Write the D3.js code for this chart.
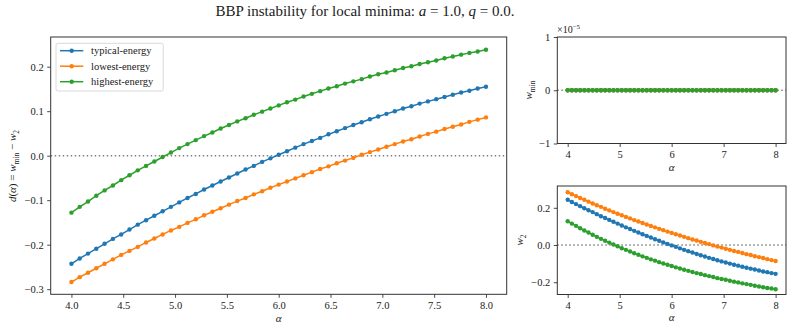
<!DOCTYPE html>
<meta charset="utf-8">
<script src="https://d3js.org/d3.v7.min.js"></script>
<style>
  body { margin: 0; background: #fff; }
  text { font-family: "Liberation Serif", "DejaVu Serif", serif; fill: #1a1a1a; }
</style>
<div id="vis"></div>
<script type="text/javascript">

// alpha grid (x values)
var alpha = [4.00, 4.08, 4.16, 4.24, 4.32, 4.40, 4.48, 4.56, 4.64, 4.72,
             4.80, 4.88, 4.96, 5.04, 5.12, 5.20, 5.28, 5.36, 5.44, 5.52,
             5.60, 5.68, 5.76, 5.84, 5.92, 6.00, 6.08, 6.16, 6.24, 6.32,
             6.40, 6.48, 6.56, 6.64, 6.72, 6.80, 6.88, 6.96, 7.04, 7.12,
             7.20, 7.28, 7.36, 7.44, 7.52, 7.60, 7.68, 7.76, 7.84, 7.92, 8.00];

// w_min is zero for every run
var wMin = [0,0,0,0,0,0,0,0,0,0, 0,0,0,0,0,0,0,0,0,0, 0,0,0,0,0,0,0,0,0,0,
            0,0,0,0,0,0,0,0,0,0, 0,0,0,0,0,0,0,0,0,0, 0];

var w2Typical = [0.243, 0.231, 0.220, 0.209, 0.198, 0.187, 0.177, 0.166, 0.155, 0.145,
                 0.135, 0.125, 0.115, 0.105, 0.095, 0.086, 0.076, 0.067, 0.058, 0.049,
                 0.040, 0.031, 0.023, 0.014, 0.006, -0.002, -0.010, -0.018, -0.026, -0.033,
                 -0.040, -0.048, -0.055, -0.062, -0.069, -0.075, -0.082, -0.088, -0.094, -0.100,
                 -0.106, -0.111, -0.117, -0.122, -0.127, -0.132, -0.137, -0.142, -0.146, -0.151, -0.155];

var w2Lowest = [0.284, 0.273, 0.263, 0.253, 0.243, 0.233, 0.223, 0.214, 0.205, 0.195,
                0.186, 0.177, 0.168, 0.160, 0.151, 0.143, 0.134, 0.126, 0.118, 0.110,
                0.102, 0.095, 0.087, 0.080, 0.072, 0.065, 0.058, 0.051, 0.044, 0.037,
                0.030, 0.024, 0.017, 0.011, 0.005, -0.002, -0.008, -0.014, -0.020, -0.026,
                -0.032, -0.037, -0.043, -0.049, -0.054, -0.060, -0.065, -0.070, -0.076, -0.081, -0.086];

var w2Highest = [0.128, 0.115, 0.103, 0.090, 0.078, 0.067, 0.055, 0.044, 0.033, 0.023,
                 0.013, 0.003, -0.007, -0.017, -0.026, -0.035, -0.044, -0.052, -0.061, -0.069,
                 -0.077, -0.084, -0.092, -0.099, -0.106, -0.113, -0.120, -0.126, -0.133, -0.139,
                 -0.145, -0.151, -0.156, -0.162, -0.167, -0.172, -0.178, -0.183, -0.187, -0.192,
                 -0.197, -0.201, -0.206, -0.210, -0.214, -0.219, -0.223, -0.227, -0.231, -0.234, -0.238];

var seriesNames = ["typical-energy", "lowest-energy", "highest-energy"];
var seriesColors = ["#1f77b4", "#ff7f0e", "#2ca02c"];
var seriesW2 = [w2Typical, w2Lowest, w2Highest];

var leftXTicks = [4.0, 4.5, 5.0, 5.5, 6.0, 6.5, 7.0, 7.5, 8.0];
var leftYTicks = [-0.3, -0.2, -0.1, 0.0, 0.1, 0.2];
var rightXTicks = [4, 5, 6, 7, 8];
var topRightYTicks = [-1e-5, 0, 1e-5];
var botRightYTicks = [-0.2, 0.0, 0.2];

var series = seriesNames.map(function(name, k) {
  return {
    name: name,
    color: seriesColors[k],
    pts: alpha.map(function(a, i) {
      return {a: a, wmin: wMin[i], w2: seriesW2[k][i], d: wMin[i] - seriesW2[k][i]};
    })
  };
});

var W = 793, H = 332;
var svg = d3.select("#vis").append("svg")
  .attr("width", W).attr("height", H)
  .style("display", "block");
svg.append("rect").attr("width", W).attr("height", H).attr("fill", "#fff");

var fmt1 = function(v) { return d3.format(".1f")(v); };

function panel(x, y, xticks, yticks, xfmt, yfmt, key) {
  var g = svg.append("g");
  var x0 = x.range()[0], x1 = x.range()[1];
  var y0 = y.range()[1], y1 = y.range()[0];

  var clipId = "clip-" + key;
  svg.append("clipPath").attr("id", clipId)
    .append("rect").attr("x", x0).attr("y", y0).attr("width", x1 - x0).attr("height", y1 - y0);

  // zero line
  g.append("line")
    .attr("x1", x0).attr("x2", x1)
    .attr("y1", y(0)).attr("y2", y(0))
    .attr("stroke", "#808080").attr("stroke-width", 1.5)
    .attr("stroke-dasharray", "1.5,2.5");

  var plot = g.append("g").attr("clip-path", "url(#" + clipId + ")");

  var ax = g.append("g").attr("transform", "translate(0," + y1 + ")")
    .call(d3.axisBottom(x).tickValues(xticks).tickFormat(xfmt).tickSizeOuter(0).tickSize(3.5).tickPadding(3.5));
  var ay = g.append("g").attr("transform", "translate(" + x0 + ",0)")
    .call(d3.axisLeft(y).tickValues(yticks).tickFormat(yfmt).tickSizeOuter(0).tickSize(3.5).tickPadding(3.5));
  [ax, ay].forEach(function(a) {
    a.attr("font-family", null);
    a.select(".domain").remove();
    a.selectAll("line").attr("stroke", "#1a1a1a").attr("stroke-width", 0.8);
    a.selectAll("text").style("font-family", "'Liberation Serif', serif")
      .style("font-size", "10.5px").attr("fill", "#1a1a1a");
  });

  g.append("rect")
    .attr("x", x0).attr("y", y0).attr("width", x1 - x0).attr("height", y1 - y0)
    .attr("fill", "none").attr("stroke", "#333").attr("stroke-width", 1);

  return plot;
}

function drawSeries(plot, x, y, field) {
  series.forEach(function(s) {
    plot.append("path").datum(s.pts)
      .attr("fill", "none").attr("stroke", s.color).attr("stroke-width", 1.5)
      .attr("d", d3.line().x(function(d) { return x(d.a); }).y(function(d) { return y(d[field]); }));
    plot.append("g").selectAll("circle").data(s.pts).enter().append("circle")
      .attr("cx", function(d) { return x(d.a); })
      .attr("cy", function(d) { return y(d[field]); })
      .attr("r", 2.2).attr("fill", s.color);
  });
}

// italic / subscript helper
function mathLabel(t, parts) {
  parts.forEach(function(p) {
    var ts = t.append("tspan").text(p[0]);
    if (p[1] === "i") ts.style("font-style", "italic");
    if (p[1] === "sub") ts.attr("dy", 2.5).style("font-size", "7.5px");
    if (p[1] === "up") ts.attr("dy", -2.5);
  });
}

// ---- left: d(alpha)
var xL = d3.scaleLinear().domain([3.8, 8.2]).range([50.7, 506.7]);
var yL = d3.scaleLinear().domain([-0.3115, 0.2667]).range([294.3, 37]);
var pL = panel(xL, yL, leftXTicks, leftYTicks, fmt1, fmt1, "left");
drawSeries(pL, xL, yL, "d");

// ---- top right: w_min
var xR = d3.scaleLinear().domain([3.8, 8.2]).range([557.3, 786]);
var yTR = d3.scaleLinear().domain([-1e-5, 1e-5]).range([143.5, 37]);
var pTR = panel(xR, yTR, rightXTicks, topRightYTicks, d3.format("d"),
  function(v) { return d3.format("d")(Math.round(v * 1e5)); }, "tr");
drawSeries(pTR, xR, yTR, "wmin");

// ---- bottom right: w_2
var yBR = d3.scaleLinear().domain([-0.266, 0.3172]).range([294.5, 186]);
var pBR = panel(xR, yBR, rightXTicks, botRightYTicks, d3.format("d"), fmt1, "br");
drawSeries(pBR, xR, yBR, "w2");

// offset text x10^-5
var off = svg.append("text").attr("x", 557).attr("y", 33).style("font-size", "10px");
off.append("tspan").text("\u00d710");
off.append("tspan").text("\u22125").attr("dy", -4).style("font-size", "7px");

// title
var title = svg.append("text").attr("x", 365).attr("y", 16)
  .attr("text-anchor", "middle").style("font-size", "15px");
mathLabel(title, [["BBP instability for local minima: ", "r"], ["a", "i"], [" = 1.0, ", "r"],
                  ["q", "i"], [" = 0.0.", "r"]]);

// x labels
[[xL, 322], [xR, 171], [xR, 321]].forEach(function(p) {
  var r = p[0].range();
  svg.append("text").attr("x", (r[0] + r[1]) / 2).attr("y", p[1])
    .attr("text-anchor", "middle").style("font-size", "11px").style("font-style", "italic")
    .text("\u03b1");
});

// y labels
var yl1 = svg.append("text").attr("transform", "translate(16,166) rotate(-90)")
  .attr("text-anchor", "middle").style("font-size", "11px");
mathLabel(yl1, [["d", "i"], ["(", "r"], ["\u03b1", "i"], [") = ", "r"], ["w", "i"], ["min", "sub"],
                [" \u2212 ", "up"], ["w", "i"], ["2", "sub"]]);

var yl2 = svg.append("text").attr("transform", "translate(532,90) rotate(-90)")
  .attr("text-anchor", "middle").style("font-size", "11px");
mathLabel(yl2, [["w", "i"], ["min", "sub"]]);

var yl3 = svg.append("text").attr("transform", "translate(523,240) rotate(-90)")
  .attr("text-anchor", "middle").style("font-size", "11px");
mathLabel(yl3, [["w", "i"], ["2", "sub"]]);

// legend
var leg = svg.append("g");
leg.append("rect").attr("x", 56).attr("y", 43.3).attr("width", 107.3).attr("height", 47.7)
  .attr("rx", 2).attr("fill", "#fff").attr("fill-opacity", 0.8)
  .attr("stroke", "#d0d0d0").attr("stroke-width", 0.8);
series.forEach(function(s, k) {
  var yy = 50.7 + k * 15.5;
  leg.append("line").attr("x1", 60).attr("x2", 83.3).attr("y1", yy).attr("y2", yy)
    .attr("stroke", s.color).attr("stroke-width", 1.5);
  leg.append("circle").attr("cx", 71.7).attr("cy", yy).attr("r", 2.2).attr("fill", s.color);
  leg.append("text").attr("x", 91).attr("y", yy + 3.5).style("font-size", "10.5px").text(s.name);
});

</script>
